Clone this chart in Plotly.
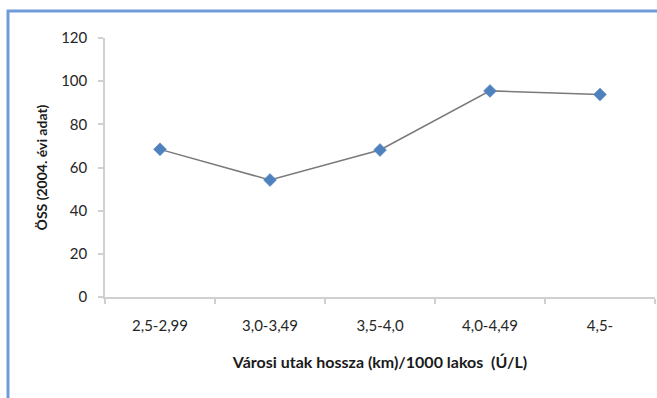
import plotly.graph_objects as go

categories = ["2,5-2,99", "3,0-3,49", "3,5-4,0", "4,0-4,49", "4,5-"]
values = [68.4, 54.2, 68.1, 95.5, 93.8]
y_ticks = [0, 20, 40, 60, 80, 100, 120]

W, H = 657, 398
L, R, T, B = 105, 2, 38, 101
pw = W - L - R
ph = H - T - B

fig = go.Figure()
fig.add_trace(go.Scatter(
    x=categories, y=values, mode="lines+markers",
    line=dict(color="#7a7a7a", width=1.5),
    marker=dict(symbol="diamond", size=10, color="#4F81BD",
                line=dict(color="#5a8ac8", width=0.5)),
    showlegend=False,
))

font = "Lato, Carlito, Calibri, sans-serif"
fig.update_layout(
    width=W, height=H,
    margin=dict(l=L, r=R, t=T, b=B),
    paper_bgcolor="white", plot_bgcolor="white",
    font=dict(family=font, color="#262626", size=15),
    xaxis=dict(
        type="category", range=[-0.5, 4.5],
        showgrid=False, zeroline=False,
        showline=True, linecolor="#d0d0d0", linewidth=1.5,
        ticks="outside", tickson="boundaries", ticklen=5,
        tickcolor="#d0d0d0", tickwidth=1.5,
        ticklabelstandoff=14,
        tickfont=dict(size=15, color="#262626"),
        title=dict(text="<b>Városi utak hossza (km)/1000 lakos  (Ú/L)</b>",
                   font=dict(size=16, color="#1a1a1a"), standoff=24),
    ),
    yaxis=dict(
        range=[0, 120], tickvals=y_ticks,
        showgrid=False, zeroline=False,
        showline=True, linecolor="#d0d0d0", linewidth=1.5,
        ticks="outside", ticklen=5, tickcolor="#d0d0d0", tickwidth=1.5,
        ticklabelstandoff=8,
        tickfont=dict(size=15, color="#262626"),
        title=dict(text="<b>ÖSS (2004. évi adat)</b>",
                   font=dict(size=14, color="#1a1a1a"), standoff=10),
    ),
    shapes=[dict(
        type="rect", xref="paper", yref="paper",
        x0=(8 - L) / pw, x1=(W + 10 - L) / pw,
        y0=-(H + 10 - T - ph) / ph, y1=1 + (T - 11) / ph,
        line=dict(color="#6F9BD8", width=3), fillcolor="rgba(0,0,0,0)",
        layer="below",
    )],
)

fig.write_html("out.html")
